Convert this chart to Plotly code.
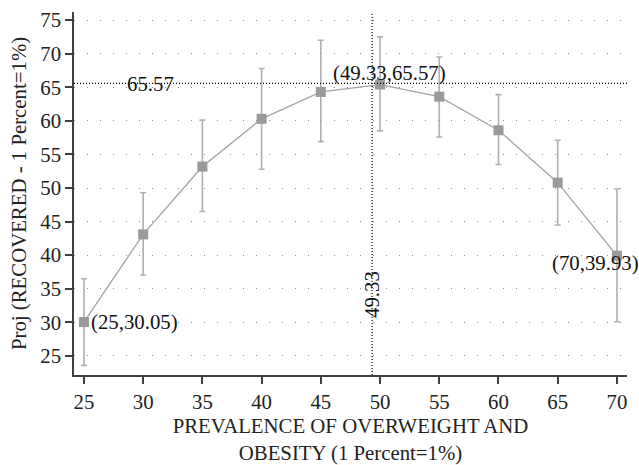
import plotly.graph_objects as go

x_vals = [25, 30, 35, 40, 45, 50, 55, 60, 65, 70]
y_vals = [30.05, 43.1, 53.2, 60.3, 64.3, 65.4, 63.6, 58.6, 50.8, 39.93]
ci_upper = [36.5, 49.3, 60.1, 67.8, 72.0, 72.5, 69.5, 63.9, 57.1, 49.85]
ci_lower = [23.6, 37.05, 46.5, 52.8, 56.9, 58.5, 57.6, 53.5, 44.5, 30.1]

peak_x = 49.33
peak_y = 65.57

x_ticks = [25, 30, 35, 40, 45, 50, 55, 60, 65, 70]
y_ticks = [25, 30, 35, 40, 45, 50, 55, 60, 65, 70, 75]

FONT = "Liberation Serif"
FS = 20.8

err_plus = [u - y for u, y in zip(ci_upper, y_vals)]
err_minus = [y - l for y, l in zip(y_vals, ci_lower)]

fig = go.Figure()
fig.add_trace(go.Scatter(
    x=x_vals, y=y_vals, mode="lines+markers",
    line=dict(color="#a3a3a3", width=1.3),
    marker=dict(symbol="square", size=10, color="#9a9a9a"),
    error_y=dict(type="data", symmetric=False, array=err_plus, arrayminus=err_minus,
                 color="#b0b0b0", thickness=1.6, width=3),
    showlegend=False, cliponaxis=False,
))

fig.add_shape(type="line", xref="x", yref="paper", x0=peak_x, x1=peak_x, y0=0, y1=1,
              line=dict(color="black", width=1.2, dash="1px,2px"))
fig.add_shape(type="line", xref="paper", yref="y", x0=0, x1=1, y0=peak_y, y1=peak_y,
              line=dict(color="black", width=1.2, dash="1px,2px"))

ann_font = dict(family=FONT, size=FS, color="#111")
fig.add_annotation(x=30.6, y=peak_y, text=f"{peak_y:.2f}", showarrow=False, font=ann_font,
                   xanchor="center", yanchor="middle")
fig.add_annotation(x=50.76, y=67.1, text=f"({peak_x:.2f},{peak_y:.2f})", showarrow=False,
                   font=ann_font, xanchor="center", yanchor="middle")
fig.add_annotation(x=peak_x, y=34.1, text=f"{peak_x:.2f}", showarrow=False, font=ann_font,
                   textangle=-90, xanchor="center", yanchor="middle")
fig.add_annotation(x=x_vals[0] + 0.45, y=y_vals[0], text=f"({x_vals[0]},{y_vals[0]:.2f})",
                   showarrow=False, font=ann_font, xanchor="left", yanchor="middle")
fig.add_annotation(x=68.2, y=38.8, text=f"({x_vals[-1]},{y_vals[-1]:.2f})",
                   showarrow=False, font=ann_font, xanchor="center", yanchor="middle")

fig.update_layout(
    width=639, height=465,
    margin=dict(l=74, r=12, t=12, b=90),
    paper_bgcolor="white", plot_bgcolor="white",
    font=dict(family=FONT, size=FS, color="#222"),
    xaxis=dict(
        range=[24.16, 70.85], tickvals=x_ticks, showgrid=False, zeroline=False,
        showline=True, linecolor="#404040", linewidth=1.5, automargin=False,
        ticks="outside", ticklen=7, tickcolor="#404040", tickwidth=1.5,
        title=dict(text="PREVALENCE OF OVERWEIGHT AND<br>OBESITY (1 Percent=1%)",
                   font=dict(family=FONT, size=FS), standoff=13),
    ),
    yaxis=dict(
        range=[22.17, 76.2], tickvals=y_ticks, showgrid=True, gridcolor="#888",
        griddash="1px,12px", gridwidth=1, zeroline=False,
        showline=True, linecolor="#404040", linewidth=1.5, automargin=False,
        ticks="outside", ticklen=7, tickcolor="#404040", tickwidth=1.5,
        title=dict(text="Proj (RECOVERED - 1 Percent=1%)", font=dict(family=FONT, size=FS),
                   standoff=8),
    ),
)

fig.write_html("out.html", config={"displayModeBar": False},
               post_script="document.body.style.margin='0';document.body.style.overflow='hidden';")
